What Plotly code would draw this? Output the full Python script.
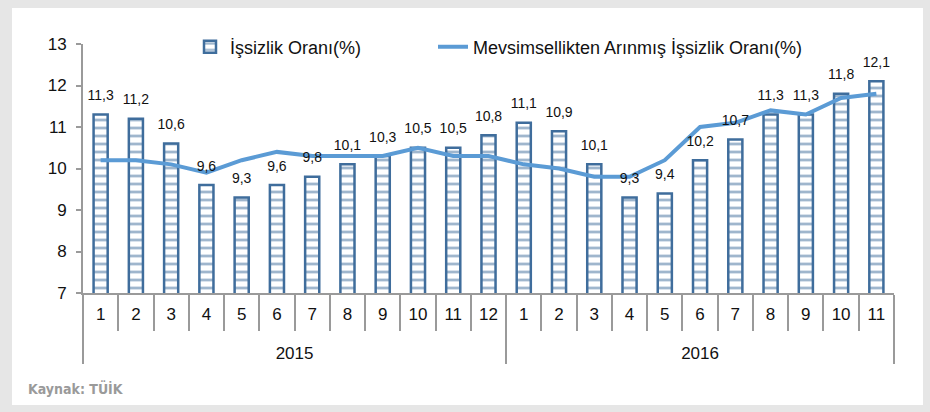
import plotly.graph_objects as go

years = ["2015"] * 12 + ["2016"] * 11
months = [str(m) for m in range(1, 13)] + [str(m) for m in range(1, 12)]

unemployment = [11.3, 11.2, 10.6, 9.6, 9.3, 9.6, 9.8, 10.1, 10.3, 10.5, 10.5, 10.8,
                11.1, 10.9, 10.1, 9.3, 9.4, 10.2, 10.7, 11.3, 11.3, 11.8, 12.1]
seasonal = [10.2, 10.2, 10.1, 9.9, 10.2, 10.4, 10.3, 10.3, 10.3, 10.5, 10.3, 10.3,
            10.1, 10.0, 9.8, 9.8, 10.2, 11.0, 11.1, 11.4, 11.3, 11.7, 11.8]

name_bar = "İşsizlik Oranı(%)"
name_line = "Mevsimsellikten Arınmış İşsizlik Oranı(%)"
source = "Kaynak: TÜİK"

# year labels sit one text line lower than the month labels
year_labels = ["<br>" + y for y in years]
x_cats = [year_labels, months]

BAR = "#3f6d9c"
LINE = "#5b9bd5"
AX = "#9a9a9a"
FONT = "Liberation Sans, Arial, sans-serif"

fig = go.Figure()
fig.add_trace(go.Bar(
    x=x_cats, y=unemployment, name=name_bar,
    marker=dict(color="white",
                line=dict(color=BAR, width=2.5),
                pattern=dict(shape="-", size=8, solidity=0.35, fgcolor=BAR, bgcolor="white")),
    legend="legend",
))
fig.add_trace(go.Scatter(
    x=x_cats, y=seasonal, name=name_line, mode="lines",
    line=dict(color=LINE, width=4),
    legend="legend2",
))
fig.add_trace(go.Scatter(
    x=x_cats, y=unemployment, mode="markers+text", showlegend=False,
    marker=dict(size=16, color="rgba(0,0,0,0)"),
    texttemplate="%{y:.1f}", textposition="top center", cliponaxis=False,
    textfont=dict(size=14, color="#111", family=FONT),
    hoverinfo="skip",
))

W, H = 930, 412
l, r, t, b = 83, 36, 44, 119
pw, ph = W - l - r, H - t - b

def px(xp):
    return (xp - l) / pw

def py(yp):
    return (H - b - yp) / ph

fig.add_shape(type="rect", xref="paper", yref="paper",
              x0=px(12), x1=px(923), y0=py(405), y1=py(8),
              fillcolor="white", line=dict(width=0), layer="below")

fig.add_annotation(text="<b>" + source + "</b>", xref="paper", yref="paper",
                   x=px(26), y=py(388), xanchor="left", yanchor="middle",
                   showarrow=False,
                   font=dict(family="DejaVu Sans Condensed, sans-serif",
                             size=14, color="#9a9a9a"))

leg_common = dict(orientation="h", yanchor="middle", y=py(47),
                  font=dict(size=18, family=FONT), bgcolor="rgba(0,0,0,0)")

fig.update_layout(
    width=W, height=H,
    margin=dict(l=l, r=r, t=t, b=b),
    paper_bgcolor="#e6e6e6", plot_bgcolor="white",
    separators=",.",
    bargap=0.6,
    font=dict(family=FONT, size=17, color="#111"),
    showlegend=True,
    legend=dict(x=px(190), xanchor="left", **leg_common),
    legend2=dict(x=px(433), xanchor="left", **leg_common),
    xaxis=dict(type="multicategory", showline=True, linecolor=AX, linewidth=2,
               range=[-0.5, len(months) - 0.5],
               ticks="outside", ticklen=36, tickcolor=AX, tickwidth=2,
               ticklabelstandoff=5,
               showdividers=True, dividercolor=AX, dividerwidth=2,
               tickfont=dict(size=17, family=FONT, color="#111"),
               showgrid=False),
    yaxis=dict(range=[7, 13], dtick=1, showline=True, linecolor=AX, linewidth=2,
               ticks="outside", ticklen=5, tickcolor=AX, tickwidth=2,
               ticklabelstandoff=6,
               showgrid=False, zeroline=False,
               tickfont=dict(size=17, family=FONT, color="#111")),
)

fig.write_html("out.html", config={"displayModeBar": False},
               post_script="document.body.style.margin='0';")
